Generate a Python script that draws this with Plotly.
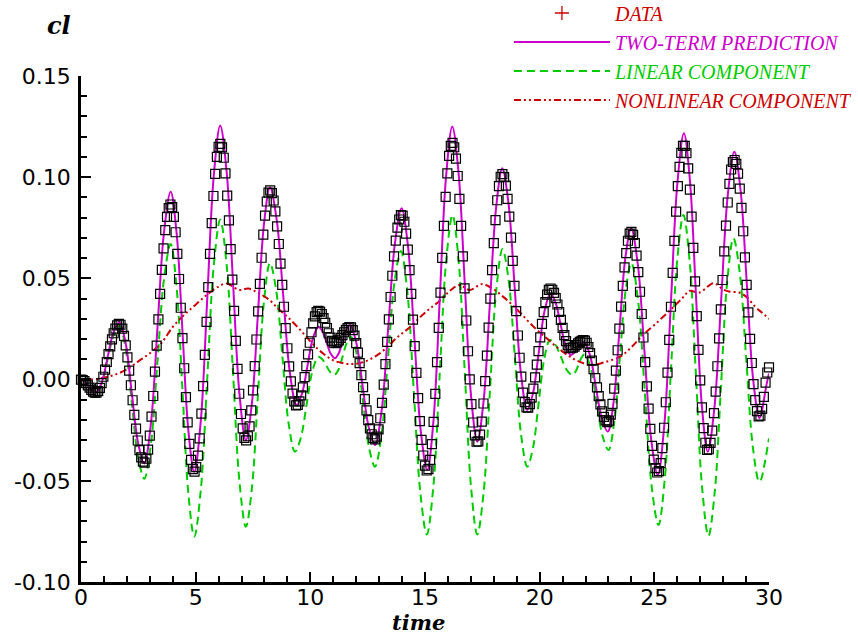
import plotly.graph_objects as go

# ---------------- data ----------------
DATA_DT = 0.075
DATA_CL = [
    0.0000, -0.0002, -0.0008, -0.0017, -0.0029, -0.0040, -0.0051, -0.0059, -0.0064, -0.0064,
    -0.0057, -0.0041, -0.0017, 0.0014, 0.0049, 0.0087, 0.0126, 0.0164, 0.0199, 0.0229,
    0.0252, 0.0268, 0.0275, 0.0271, 0.0252, 0.0216, 0.0169, 0.0110, 0.0044, -0.0028,
    -0.0102, -0.0174, -0.0242, -0.0301, -0.0348, -0.0384, -0.0405, -0.0410, -0.0391, -0.0346,
    -0.0277, -0.0183, -0.0081, 0.0039, 0.0168, 0.0298, 0.0424, 0.0542, 0.0648, 0.0739,
    0.0804, 0.0847, 0.0865, 0.0852, 0.0804, 0.0728, 0.0621, 0.0497, 0.0355, 0.0205,
    0.0056, -0.0087, -0.0211, -0.0318, -0.0397, -0.0442, -0.0455, -0.0432, -0.0376, -0.0290,
    -0.0168, -0.0032, 0.0122, 0.0285, 0.0457, 0.0621, 0.0773, 0.0907, 0.1016, 0.1100,
    0.1150, 0.1165, 0.1147, 0.1096, 0.1019, 0.0909, 0.0787, 0.0645, 0.0494, 0.0340,
    0.0191, 0.0053, -0.0070, -0.0170, -0.0241, -0.0288, -0.0300, -0.0280, -0.0231, -0.0152,
    -0.0053, 0.0067, 0.0198, 0.0337, 0.0473, 0.0602, 0.0716, 0.0810, 0.0880, 0.0924,
    0.0935, 0.0921, 0.0885, 0.0831, 0.0757, 0.0670, 0.0573, 0.0468, 0.0360, 0.0254,
    0.0155, 0.0065, -0.0009, -0.0069, -0.0108, -0.0127, -0.0125, -0.0108, -0.0078, -0.0038,
    0.0012, 0.0067, 0.0125, 0.0182, 0.0234, 0.0278, 0.0312, 0.0333, 0.0340, 0.0336,
    0.0324, 0.0304, 0.0281, 0.0255, 0.0229, 0.0207, 0.0191, 0.0182, 0.0180, 0.0185,
    0.0194, 0.0206, 0.0220, 0.0234, 0.0246, 0.0255, 0.0260, 0.0258, 0.0244, 0.0217,
    0.0180, 0.0133, 0.0081, 0.0022, -0.0037, -0.0096, -0.0152, -0.0200, -0.0241, -0.0270,
    -0.0289, -0.0295, -0.0282, -0.0246, -0.0191, -0.0115, -0.0025, 0.0076, 0.0186, 0.0298,
    0.0408, 0.0513, 0.0609, 0.0687, 0.0751, 0.0791, 0.0813, 0.0810, 0.0780, 0.0721,
    0.0642, 0.0541, 0.0424, 0.0296, 0.0165, 0.0033, -0.0092, -0.0205, -0.0298, -0.0375,
    -0.0425, -0.0449, -0.0442, -0.0397, -0.0319, -0.0209, -0.0071, 0.0086, 0.0256, 0.0430,
    0.0601, 0.0760, 0.0903, 0.1019, 0.1105, 0.1155, 0.1170, 0.1148, 0.1092, 0.1006,
    0.0893, 0.0760, 0.0609, 0.0451, 0.0292, 0.0140, 0.0001, -0.0121, -0.0212, -0.0276,
    -0.0307, -0.0305, -0.0272, -0.0208, -0.0118, -0.0008, 0.0118, 0.0257, 0.0400, 0.0541,
    0.0674, 0.0788, 0.0886, 0.0956, 0.1002, 0.1015, 0.1000, 0.0958, 0.0893, 0.0805,
    0.0701, 0.0587, 0.0463, 0.0338, 0.0218, 0.0108, 0.0015, -0.0064, -0.0111, -0.0137,
    -0.0138, -0.0121, -0.0089, -0.0045, 0.0011, 0.0074, 0.0141, 0.0209, 0.0275, 0.0333,
    0.0383, 0.0420, 0.0443, 0.0450, 0.0444, 0.0428, 0.0403, 0.0371, 0.0334, 0.0295,
    0.0256, 0.0220, 0.0190, 0.0170, 0.0157, 0.0155, 0.0158, 0.0163, 0.0171, 0.0179,
    0.0186, 0.0192, 0.0195, 0.0193, 0.0182, 0.0161, 0.0131, 0.0094, 0.0052, 0.0008,
    -0.0038, -0.0082, -0.0122, -0.0157, -0.0184, -0.0201, -0.0210, -0.0203, -0.0173, -0.0120,
    -0.0045, 0.0044, 0.0145, 0.0252, 0.0361, 0.0463, 0.0554, 0.0625, 0.0686, 0.0721,
    0.0730, 0.0715, 0.0674, 0.0613, 0.0531, 0.0434, 0.0324, 0.0208, 0.0086, -0.0033,
    -0.0143, -0.0243, -0.0327, -0.0395, -0.0437, -0.0459, -0.0452, -0.0413, -0.0339, -0.0238,
    -0.0112, 0.0034, 0.0196, 0.0360, 0.0527, 0.0685, 0.0830, 0.0956, 0.1051, 0.1120,
    0.1155, 0.1155, 0.1119, 0.1044, 0.0939, 0.0805, 0.0651, 0.0485, 0.0314, 0.0147,
    -0.0004, -0.0137, -0.0240, -0.0312, -0.0347, -0.0344, -0.0313, -0.0252, -0.0166, -0.0059,
    0.0066, 0.0204, 0.0347, 0.0492, 0.0634, 0.0761, 0.0875, 0.0967, 0.1038, 0.1075,
    0.1085, 0.1066, 0.1018, 0.0944, 0.0848, 0.0733, 0.0604, 0.0468, 0.0332, 0.0201,
    0.0082, -0.0022, -0.0101, -0.0156, -0.0182, -0.0178, -0.0145, -0.0085, -0.0015, 0.0035,
    0.0060,
]
DATA_TIME = [round(i * DATA_DT, 3) for i in range(len(DATA_CL))]

PRED_TIME = [
    0, 0.1625, 0.325, 0.4875, 0.65, 0.905, 1.16, 1.415, 1.67, 1.9425, 2.215, 2.4875,
    2.76, 3.0475, 3.335, 3.6225, 3.91, 4.1675, 4.425, 4.6825, 4.94, 5.2225, 5.505, 5.7875,
    6.07, 6.35, 6.63, 6.91, 7.19, 7.4525, 7.715, 7.9775, 8.24, 8.53, 8.82, 9.11,
    9.40, 9.6375, 9.875, 10.1125, 10.35, 10.53, 10.71, 10.89, 11.07, 11.235, 11.40, 11.565,
    11.73, 12.0025, 12.275, 12.5475, 12.82, 13.11, 13.40, 13.69, 13.98, 14.26, 14.54, 14.82,
    15.10, 15.3725, 15.645, 15.9175, 16.19, 16.4625, 16.735, 17.0075, 17.28, 17.5525, 17.825, 18.0975,
    18.37, 18.6425, 18.915, 19.1875, 19.46, 19.7125, 19.965, 20.2175, 20.47, 20.69, 20.91, 21.13,
    21.35, 21.495, 21.64, 21.785, 21.93, 22.19, 22.45, 22.71, 22.97, 23.225, 23.48, 23.735,
    23.99, 24.28, 24.57, 24.86, 25.15, 25.435, 25.72, 26.005, 26.29, 26.55, 26.81, 27.07,
    27.33, 27.62, 27.91, 28.20, 28.49, 28.7625, 29.035, 29.3075, 29.58, 29.70, 29.80, 29.90,
    30.0,
]
PRED_CL = [
    0.0, -0.00095, -0.00325, -0.00555, -0.0065, -0.0014, 0.0110, 0.0234, 0.0285, 0.0183, -0.0065, -0.0312,
    -0.0414, -0.0218, 0.0257, 0.0732, 0.0928, 0.0726, 0.0237, -0.0253, -0.0455, -0.0205, 0.0400, 0.1005,
    0.1255, 0.1027, 0.0478, -0.0072, -0.0300, -0.0117, 0.0325, 0.0767, 0.0950, 0.0793, 0.0412, 0.0032,
    -0.0126, -0.0069, 0.0068, 0.0204, 0.0261, 0.0238, 0.0183, 0.0128, 0.0105, 0.0129, 0.0188, 0.0246,
    0.0270, 0.0183, -0.0027, -0.0236, -0.0323, -0.0152, 0.0262, 0.0675, 0.0846, 0.0657, 0.0200, -0.0258,
    -0.0447, -0.0199, 0.0402, 0.1002, 0.1250, 0.1022, 0.0472, -0.0079, -0.0307, -0.0109, 0.0369, 0.0846,
    0.1044, 0.0869, 0.0447, 0.0025, -0.0150, -0.0066, 0.0138, 0.0342, 0.0426, 0.0382, 0.0274, 0.0167,
    0.0122, 0.0132, 0.0155, 0.0177, 0.0187, 0.0122, -0.0035, -0.0192, -0.0257, -0.0110, 0.0245, 0.0600,
    0.0747, 0.0569, 0.0138, -0.0293, -0.0471, -0.0224, 0.0373, 0.0970, 0.1217, 0.0987, 0.0431, -0.0126,
    -0.0356, -0.0139, 0.0385, 0.0909, 0.1126, 0.0933, 0.0468, 0.0002, -0.0191, -0.0150, -0.0085, -0.0020,
    0.0030,
]

LIN_TIME = [
    0, 0.1625, 0.325, 0.4875, 0.65, 0.905, 1.16, 1.415, 1.67, 1.9425, 2.215, 2.4875,
    2.76, 3.0475, 3.335, 3.6225, 3.91, 4.1675, 4.425, 4.6825, 4.94, 5.2225, 5.505, 5.7875,
    6.07, 6.35, 6.63, 6.91, 7.19, 7.4525, 7.715, 7.9775, 8.24, 8.5125, 8.785, 9.0575,
    9.33, 9.585, 9.84, 10.095, 10.35, 10.525, 10.70, 10.875, 11.05, 11.2325, 11.415, 11.5975,
    11.78, 12.04, 12.30, 12.56, 12.82, 13.1025, 13.385, 13.6675, 13.95, 14.2325, 14.515, 14.7975,
    15.08, 15.36, 15.64, 15.92, 16.20, 16.47, 16.74, 17.01, 17.28, 17.555, 17.83, 18.105,
    18.38, 18.65, 18.92, 19.19, 19.46, 19.7075, 19.955, 20.2025, 20.45, 20.6925, 20.935, 21.1775,
    21.42, 21.5575, 21.695, 21.8325, 21.97, 22.2275, 22.485, 22.7425, 23.00, 23.25, 23.50, 23.75,
    24.00, 24.295, 24.59, 24.885, 25.18, 25.4525, 25.725, 25.9975, 26.27, 26.5425, 26.815, 27.0875,
    27.36, 27.6325, 27.905, 28.1775, 28.45, 28.73, 29.01, 29.29, 29.57, 29.65, 29.75, 29.85,
    30.0,
]
LIN_CL = [
    0.0, -0.0010, -0.0034, -0.0058, -0.0068, -0.0019, 0.0099, 0.0216, 0.0265, 0.0155, -0.0113, -0.0380,
    -0.0490, -0.0320, 0.0090, 0.0500, 0.0670, 0.0458, -0.0053, -0.0564, -0.0776, -0.0547, 0.0007, 0.0561,
    0.0790, 0.0568, 0.0032, -0.0505, -0.0727, -0.0536, -0.0076, 0.0385, 0.0576, 0.0440, 0.0110, -0.0220,
    -0.0356, -0.0287, -0.0122, 0.0044, 0.0113, 0.0100, 0.0068, 0.0036, 0.0023, 0.0050, 0.0117, 0.0183,
    0.0210, 0.0116, -0.0110, -0.0336, -0.0430, -0.0274, 0.0103, 0.0479, 0.0635, 0.0430, -0.0065, -0.0560,
    -0.0765, -0.0534, 0.0024, 0.0582, 0.0813, 0.0582, 0.0024, -0.0534, -0.0765, -0.0559, -0.0060, 0.0439,
    0.0645, 0.0488, 0.0108, -0.0273, -0.0430, -0.0338, -0.0117, 0.0104, 0.0196, 0.0171, 0.0110, 0.0048,
    0.0023, 0.0038, 0.0074, 0.0110, 0.0125, 0.0056, -0.0112, -0.0279, -0.0348, -0.0213, 0.0114, 0.0441,
    0.0576, 0.0387, -0.0071, -0.0529, -0.0718, -0.0494, 0.0048, 0.0589, 0.0813, 0.0581, 0.0021, -0.0540,
    -0.0772, -0.0557, -0.0037, 0.0483, 0.0698, 0.0522, 0.0097, -0.0328, -0.0504, -0.0495, -0.0450, -0.0390,
    -0.0290,
]

NONLIN_TIME = [
    0, 0.5, 1.0, 1.5, 2.0, 2.5, 3.0, 3.5, 4.0, 4.5, 5.0, 5.5, 6.0, 6.35, 6.9, 7.3,
    7.7, 8.2, 8.6, 9.0, 9.4, 9.8, 10.2, 10.6, 11.0, 11.5, 11.9, 12.4, 12.9, 13.3, 13.8, 14.3,
    14.8, 15.2, 15.65, 16.1, 16.5, 16.95, 17.5, 18.0, 18.4, 18.8, 19.2, 19.7, 20.2, 20.7, 21.3, 21.8,
    22.3, 22.8, 23.5, 24.0, 24.5, 25.0, 25.7, 26.2, 26.55, 26.95, 27.6, 28.0, 28.3, 28.7, 29.0, 29.4,
    29.7, 30.0,
]
NONLIN_CL = [
    0.0, 0.0, 0.001, 0.0025, 0.005, 0.009, 0.013, 0.018, 0.026, 0.032, 0.037, 0.042, 0.046, 0.0475, 0.0443, 0.045,
    0.043, 0.0395, 0.035, 0.031, 0.0265, 0.0215, 0.0165, 0.0125, 0.0095, 0.008, 0.0077, 0.009, 0.012, 0.0155, 0.021, 0.0255,
    0.031, 0.035, 0.039, 0.044, 0.0467, 0.0443, 0.0472, 0.0445, 0.041, 0.037, 0.0325, 0.0265, 0.0215, 0.0165, 0.0115, 0.0085,
    0.0072, 0.0085, 0.0113, 0.016, 0.022, 0.027, 0.0344, 0.040, 0.0439, 0.043, 0.0476, 0.0445, 0.0434, 0.043, 0.041, 0.036,
    0.033, 0.030,
]

X_TICKS = [0, 5, 10, 15, 20, 25, 30]
X_TICKTEXT = ["0", "5", "10", "15", "20", "25", "30"]
Y_TICKS = [-0.10, -0.05, 0.0, 0.05, 0.10, 0.15]
Y_TICKTEXT = ["-0.10", "-0.05", "0.00", "0.05", "0.10", "0.15"]

MAGENTA = "#cc00cc"
GREEN = "#00cc00"
RED = "#cc0000"

fig = go.Figure()

fig.add_trace(go.Scatter(
    x=LIN_TIME, y=LIN_CL, mode="lines", line_shape="spline",
    line=dict(color=GREEN, width=2, dash="8px,5px"),
    name=f"<span style='color:{GREEN}'><i>LINEAR COMPONENT</i></span>",
    legendrank=3, legendgroup="c",
))
fig.add_trace(go.Scatter(
    x=NONLIN_TIME, y=NONLIN_CL, mode="lines", line_shape="spline",
    line=dict(color=RED, width=2, dash="7px,3px,2px,3px,2px,3px"),
    name=f"<span style='color:{RED}'><i>NONLINEAR COMPONENT</i></span>",
    legendrank=4, legendgroup="d",
))
fig.add_trace(go.Scatter(
    x=PRED_TIME, y=PRED_CL, mode="lines", line_shape="spline",
    line=dict(color=MAGENTA, width=2),
    name=f"<span style='color:{MAGENTA}'><i>TWO-TERM PREDICTION</i></span>",
    legendrank=2, legendgroup="b",
))
fig.add_trace(go.Scatter(
    x=DATA_TIME, y=DATA_CL, mode="markers", cliponaxis=False,
    marker=dict(symbol="square-open", size=9, color="black", line=dict(width=1.2, color="black")),
    showlegend=False,
))
# legend-only entry for DATA (red plus sign, as in the reference legend)
fig.add_trace(go.Scatter(
    x=[None], y=[None], mode="markers",
    marker=dict(symbol="cross-thin", size=10, color=RED, line=dict(width=1.3, color=RED)),
    name=f"<span style='color:{RED}'><i>DATA</i></span>",
    legendrank=1, legendgroup="a",
))

axis_common = dict(
    showline=True, linecolor="black", linewidth=2.5, mirror=False,
    ticks="inside", ticklen=10, tickwidth=1.5, tickcolor="black",
    showgrid=False, zeroline=False,
    tickfont=dict(family="DejaVu Sans", size=22, color="black"),
)

fig.update_layout(
    width=858, height=637,
    margin=dict(l=81, r=89, t=76, b=55, autoexpand=False),
    paper_bgcolor="white", plot_bgcolor="white",
    xaxis=dict(range=[0, 30], tickmode="array", tickvals=X_TICKS, ticktext=X_TICKTEXT,
               minor=dict(ticks="inside", ticklen=6, tickwidth=1.5, tickcolor="black", tick0=0, dtick=1),
               ticklabelstandoff=-6, **axis_common),
    yaxis=dict(range=[-0.10, 0.15], tickmode="array", tickvals=Y_TICKS, ticktext=Y_TICKTEXT,
               minor=dict(ticks="inside", ticklen=6, tickwidth=1.5, tickcolor="black", tick0=0, dtick=0.01),
               ticklabelstandoff=3, **axis_common),
    legend=dict(x=0.622, y=1.163, xanchor="left", yanchor="top",
                bgcolor="rgba(0,0,0,0)", borderwidth=0,
                font=dict(family="Liberation Serif", size=20, color="black"),
                itemwidth=96, tracegroupgap=8.5, traceorder="normal"),
    showlegend=True,
    annotations=[
        dict(text="<b><i>cl</i></b>", xref="paper", yref="paper", x=-0.032, y=1.1, showarrow=False,
             xanchor="center", yanchor="middle",
             font=dict(family="DejaVu Serif", size=24, color="black")),
        dict(text="<b><i>time</i></b>", xref="paper", yref="paper", x=0.49, y=-0.1067, showarrow=False,
             xanchor="center", yanchor="bottom", borderpad=0,
             font=dict(family="DejaVu Serif", size=21, color="black")),
    ],
)

fig.write_html("out.html")
